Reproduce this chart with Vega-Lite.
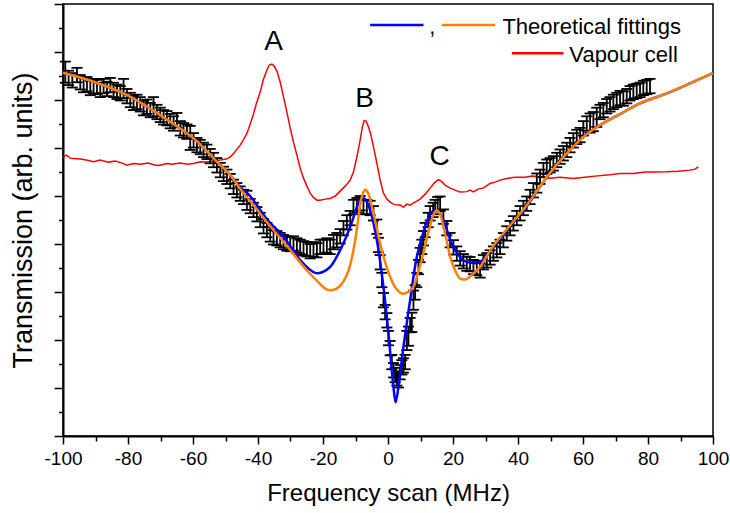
{
  "$schema": "https://vega.github.io/schema/vega-lite/v6.json",
  "width": 650,
  "height": 432,
  "autosize": {"type": "none"},
  "padding": {"left": 63, "top": 4, "right": 17, "bottom": 77},
  "background": "white",
  "config": {
    "view": {"stroke": "black", "strokeWidth": 1.5},
    "font": "Liberation Sans",
    "axis": {"domainColor": "black", "domainWidth": 2, "tickColor": "black", "tickWidth": 1.5, "labelColor": "black", "titleColor": "black", "grid": false, "labelFont": "Liberation Sans", "titleFont": "Liberation Sans", "titleFontWeight": "normal"}
  },
  "datasets": {
    "points": [
      {"f": -99.29, "v": 7.58, "e": 0.22}, {"f": -98.28, "v": 7.46, "e": 0.15}, {"f": -97.14, "v": 7.41, "e": 0.15}, {"f": -95.69, "v": 7.52, "e": 0.15},
      {"f": -94.68, "v": 7.37, "e": 0.15}, {"f": -93.66, "v": 7.31, "e": 0.15}, {"f": -92.62, "v": 7.33, "e": 0.15}, {"f": -91.6, "v": 7.25, "e": 0.15},
      {"f": -90.59, "v": 7.29, "e": 0.15}, {"f": -89.54, "v": 7.27, "e": 0.15}, {"f": -88.53, "v": 7.21, "e": 0.15}, {"f": -87.51, "v": 7.29, "e": 0.15},
      {"f": -86.47, "v": 7.23, "e": 0.15}, {"f": -85.45, "v": 7.31, "e": 0.15}, {"f": -84.44, "v": 7.21, "e": 0.15}, {"f": -83.39, "v": 7.17, "e": 0.15},
      {"f": -82.38, "v": 7.14, "e": 0.15}, {"f": -81.36, "v": 7.24, "e": 0.2}, {"f": -80.32, "v": 7.08, "e": 0.15}, {"f": -79.3, "v": 7.0, "e": 0.15},
      {"f": -78.29, "v": 6.94, "e": 0.15}, {"f": -77.24, "v": 6.96, "e": 0.15}, {"f": -76.23, "v": 6.91, "e": 0.15}, {"f": -75.21, "v": 6.83, "e": 0.15},
      {"f": -74.17, "v": 6.86, "e": 0.15}, {"f": -73.15, "v": 6.79, "e": 0.15}, {"f": -72.14, "v": 6.86, "e": 0.2}, {"f": -71.09, "v": 6.75, "e": 0.15},
      {"f": -70.08, "v": 6.69, "e": 0.15}, {"f": -69.06, "v": 6.64, "e": 0.15}, {"f": -68.01, "v": 6.62, "e": 0.15}, {"f": -67.0, "v": 6.56, "e": 0.15},
      {"f": -65.98, "v": 6.51, "e": 0.15}, {"f": -64.94, "v": 6.58, "e": 0.15}, {"f": -63.92, "v": 6.41, "e": 0.15}, {"f": -62.91, "v": 6.37, "e": 0.15},
      {"f": -61.86, "v": 6.34, "e": 0.15}, {"f": -60.85, "v": 6.21, "e": 0.25}, {"f": -59.83, "v": 6.16, "e": 0.15}, {"f": -58.79, "v": 6.06, "e": 0.15},
      {"f": -57.77, "v": 6.02, "e": 0.15}, {"f": -56.76, "v": 5.96, "e": 0.15}, {"f": -55.71, "v": 5.92, "e": 0.15}, {"f": -54.7, "v": 5.83, "e": 0.15},
      {"f": -53.68, "v": 5.75, "e": 0.15}, {"f": -52.64, "v": 5.64, "e": 0.15}, {"f": -51.62, "v": 5.54, "e": 0.15}, {"f": -50.61, "v": 5.46, "e": 0.15},
      {"f": -49.56, "v": 5.4, "e": 0.15}, {"f": -48.55, "v": 5.31, "e": 0.15}, {"f": -47.53, "v": 5.19, "e": 0.15}, {"f": -46.49, "v": 5.12, "e": 0.15},
      {"f": -45.47, "v": 5.05, "e": 0.15}, {"f": -44.46, "v": 4.98, "e": 0.15}, {"f": -43.41, "v": 4.91, "e": 0.2}, {"f": -42.4, "v": 4.79, "e": 0.15},
      {"f": -41.38, "v": 4.71, "e": 0.15}, {"f": -40.33, "v": 4.62, "e": 0.15}, {"f": -39.32, "v": 4.5, "e": 0.15}, {"f": -38.31, "v": 4.37, "e": 0.15},
      {"f": -37.26, "v": 4.29, "e": 0.15}, {"f": -36.24, "v": 4.2, "e": 0.15}, {"f": -35.23, "v": 4.14, "e": 0.15}, {"f": -34.18, "v": 4.12, "e": 0.15},
      {"f": -33.17, "v": 4.08, "e": 0.15}, {"f": -32.15, "v": 4.04, "e": 0.15}, {"f": -31.11, "v": 4.01, "e": 0.15}, {"f": -30.09, "v": 4.0, "e": 0.15},
      {"f": -29.08, "v": 4.01, "e": 0.15}, {"f": -28.03, "v": 3.97, "e": 0.15}, {"f": -27.02, "v": 3.94, "e": 0.15}, {"f": -26.0, "v": 3.91, "e": 0.15},
      {"f": -24.96, "v": 3.89, "e": 0.15}, {"f": -23.94, "v": 3.85, "e": 0.15}, {"f": -22.93, "v": 3.89, "e": 0.15}, {"f": -21.88, "v": 3.87, "e": 0.15},
      {"f": -20.87, "v": 3.94, "e": 0.15}, {"f": -19.85, "v": 3.94, "e": 0.15}, {"f": -18.81, "v": 3.97, "e": 0.15}, {"f": -17.79, "v": 3.94, "e": 0.15},
      {"f": -16.77, "v": 4.04, "e": 0.15}, {"f": -15.73, "v": 4.08, "e": 0.15}, {"f": -14.72, "v": 4.16, "e": 0.15}, {"f": -13.7, "v": 4.33, "e": 0.15},
      {"f": -12.66, "v": 4.45, "e": 0.15}, {"f": -11.64, "v": 4.54, "e": 0.15}, {"f": -10.63, "v": 4.77, "e": 0.15}, {"f": -9.58, "v": 4.81, "e": 0.15},
      {"f": -8.57, "v": 4.85, "e": 0.15}, {"f": -7.55, "v": 4.77, "e": 0.15}, {"f": -6.51, "v": 4.77, "e": 0.15}, {"f": -5.49, "v": 4.75, "e": 0.15},
      {"f": -4.48, "v": 4.64, "e": 0.15}, {"f": -3.43, "v": 4.36, "e": 0.15}, {"f": -2.94, "v": 3.98, "e": 0.15}, {"f": -2.41, "v": 3.62, "e": 0.15},
      {"f": -1.89, "v": 3.25, "e": 0.15}, {"f": -1.4, "v": 2.83, "e": 0.15}, {"f": -0.88, "v": 2.58, "e": 0.15}, {"f": -0.35, "v": 2.41, "e": 0.15},
      {"f": 0.14, "v": 2.04, "e": 0.15}, {"f": 0.66, "v": 1.83, "e": 0.15}, {"f": 1.18, "v": 1.54, "e": 0.15}, {"f": 1.68, "v": 1.37, "e": 0.15},
      {"f": 2.2, "v": 1.27, "e": 0.15}, {"f": 2.72, "v": 1.2, "e": 0.15}, {"f": 3.21, "v": 1.16, "e": 0.15}, {"f": 3.74, "v": 1.33, "e": 0.15},
      {"f": 4.26, "v": 1.43, "e": 0.15}, {"f": 4.75, "v": 1.47, "e": 0.15}, {"f": 5.28, "v": 1.54, "e": 0.15}, {"f": 5.8, "v": 1.99, "e": 0.2},
      {"f": 6.29, "v": 2.08, "e": 0.2}, {"f": 6.81, "v": 2.31, "e": 0.15}, {"f": 7.34, "v": 2.37, "e": 0.2}, {"f": 7.83, "v": 2.83, "e": 0.2},
      {"f": 8.35, "v": 2.99, "e": 0.15}, {"f": 8.87, "v": 3.25, "e": 0.15}, {"f": 9.37, "v": 3.52, "e": 0.15}, {"f": 9.89, "v": 3.77, "e": 0.15},
      {"f": 10.41, "v": 3.94, "e": 0.15}, {"f": 10.91, "v": 4.12, "e": 0.15}, {"f": 11.43, "v": 4.29, "e": 0.15}, {"f": 12.35, "v": 4.5, "e": 0.15},
      {"f": 12.96, "v": 4.64, "e": 0.15}, {"f": 13.89, "v": 4.71, "e": 0.15}, {"f": 14.5, "v": 4.77, "e": 0.15}, {"f": 15.27, "v": 4.83, "e": 0.15},
      {"f": 16.04, "v": 4.84, "e": 0.15}, {"f": 17.05, "v": 4.57, "e": 0.15}, {"f": 18.1, "v": 4.33, "e": 0.15}, {"f": 19.11, "v": 4.08, "e": 0.15},
      {"f": 20.13, "v": 3.93, "e": 0.15}, {"f": 21.17, "v": 3.8, "e": 0.15}, {"f": 22.19, "v": 3.7, "e": 0.15}, {"f": 23.2, "v": 3.64, "e": 0.15},
      {"f": 24.25, "v": 3.59, "e": 0.15}, {"f": 25.26, "v": 3.58, "e": 0.15}, {"f": 26.28, "v": 3.52, "e": 0.15}, {"f": 27.32, "v": 3.5, "e": 0.15},
      {"f": 28.34, "v": 3.45, "e": 0.15}, {"f": 29.35, "v": 3.62, "e": 0.15}, {"f": 30.4, "v": 3.66, "e": 0.15}, {"f": 31.42, "v": 3.72, "e": 0.15},
      {"f": 32.43, "v": 3.8, "e": 0.15}, {"f": 33.47, "v": 3.87, "e": 0.15}, {"f": 34.49, "v": 3.94, "e": 0.15}, {"f": 35.51, "v": 4.08, "e": 0.15},
      {"f": 36.55, "v": 4.22, "e": 0.15}, {"f": 37.57, "v": 4.33, "e": 0.15}, {"f": 38.58, "v": 4.43, "e": 0.15}, {"f": 39.63, "v": 4.54, "e": 0.15},
      {"f": 40.64, "v": 4.64, "e": 0.15}, {"f": 41.66, "v": 4.75, "e": 0.15}, {"f": 42.7, "v": 4.84, "e": 0.15}, {"f": 43.72, "v": 4.98, "e": 0.15},
      {"f": 44.73, "v": 5.12, "e": 0.15}, {"f": 45.78, "v": 5.27, "e": 0.2}, {"f": 46.79, "v": 5.4, "e": 0.15}, {"f": 47.81, "v": 5.54, "e": 0.15},
      {"f": 48.85, "v": 5.61, "e": 0.15}, {"f": 49.87, "v": 5.64, "e": 0.15}, {"f": 50.88, "v": 5.68, "e": 0.15}, {"f": 51.93, "v": 5.75, "e": 0.15},
      {"f": 52.94, "v": 5.82, "e": 0.15}, {"f": 53.96, "v": 5.89, "e": 0.15}, {"f": 55.01, "v": 5.96, "e": 0.15}, {"f": 56.02, "v": 6.06, "e": 0.15},
      {"f": 57.04, "v": 6.16, "e": 0.15}, {"f": 58.08, "v": 6.23, "e": 0.15}, {"f": 59.1, "v": 6.27, "e": 0.15}, {"f": 60.11, "v": 6.41, "e": 0.15},
      {"f": 61.16, "v": 6.51, "e": 0.15}, {"f": 62.17, "v": 6.52, "e": 0.2}, {"f": 63.19, "v": 6.55, "e": 0.2}, {"f": 64.23, "v": 6.64, "e": 0.2},
      {"f": 65.25, "v": 6.75, "e": 0.15}, {"f": 66.26, "v": 6.79, "e": 0.15}, {"f": 67.31, "v": 6.87, "e": 0.15}, {"f": 68.32, "v": 6.91, "e": 0.15},
      {"f": 69.34, "v": 6.96, "e": 0.15}, {"f": 70.38, "v": 7.0, "e": 0.15}, {"f": 71.4, "v": 7.04, "e": 0.15}, {"f": 72.41, "v": 7.03, "e": 0.15},
      {"f": 73.46, "v": 7.08, "e": 0.15}, {"f": 74.47, "v": 7.14, "e": 0.15}, {"f": 75.49, "v": 7.17, "e": 0.15}, {"f": 76.53, "v": 7.19, "e": 0.15},
      {"f": 77.55, "v": 7.21, "e": 0.15}, {"f": 78.56, "v": 7.25, "e": 0.15}, {"f": 79.61, "v": 7.27, "e": 0.15}, {"f": 80.62, "v": 7.29, "e": 0.15}
    ],
    "fit1": [
      {"f": -100, "v": 7.567}, {"f": -90.6, "v": 7.38}, {"f": -80.3, "v": 7.102}, {"f": -70.1, "v": 6.685}, {"f": -59.8, "v": 6.2},
      {"f": -52.6, "v": 5.712}, {"f": -48.55, "v": 5.435}, {"f": -45.47, "v": 5.184}, {"f": -42.4, "v": 4.997}, {"f": -37.26, "v": 4.517},
      {"f": -32.15, "v": 4.148}, {"f": -27.02, "v": 3.663}, {"f": -24.56, "v": 3.496}, {"f": -22.4, "v": 3.398}, {"f": -20.25, "v": 3.412},
      {"f": -17.79, "v": 3.523}, {"f": -14.72, "v": 3.871}, {"f": -11.64, "v": 4.357}, {"f": -10.1, "v": 4.663}, {"f": -9.09, "v": 4.851},
      {"f": -8.04, "v": 4.949}, {"f": -7.03, "v": 4.934}, {"f": -5.49, "v": 4.705}, {"f": -3.43, "v": 4.08}, {"f": -1.4, "v": 3.106},
      {"f": 0.14, "v": 2.135}, {"f": 1.68, "v": 1.021}, {"f": 2.35, "v": 0.703}, {"f": 3.21, "v": 1.021}, {"f": 4.75, "v": 1.855},
      {"f": 6.81, "v": 2.829}, {"f": 8.87, "v": 3.731}, {"f": 11.42, "v": 4.357}, {"f": 12.96, "v": 4.622}, {"f": 14.5, "v": 4.705},
      {"f": 15.73, "v": 4.663}, {"f": 17.05, "v": 4.496}, {"f": 20.13, "v": 3.94}, {"f": 23.2, "v": 3.663}, {"f": 26.28, "v": 3.606},
      {"f": 28.34, "v": 3.621}, {"f": 32.43, "v": 3.94}, {"f": 38.58, "v": 4.455}, {"f": 42.7, "v": 4.788}, {"f": 48.85, "v": 5.393},
      {"f": 55.01, "v": 5.887}, {"f": 61.16, "v": 6.289}, {"f": 65.25, "v": 6.477}, {"f": 71.4, "v": 6.706}, {"f": 77.55, "v": 6.929},
      {"f": 85.76, "v": 7.138}, {"f": 92.93, "v": 7.346}, {"f": 100, "v": 7.561}
    ],
    "fit2": [
      {"f": -100, "v": 7.567}, {"f": -90.6, "v": 7.38}, {"f": -80.3, "v": 7.102}, {"f": -70.1, "v": 6.685}, {"f": -59.8, "v": 6.2},
      {"f": -52.6, "v": 5.712}, {"f": -48.5, "v": 5.435}, {"f": -45.5, "v": 5.15}, {"f": -41.5, "v": 4.82}, {"f": -37.3, "v": 4.46},
      {"f": -31.1, "v": 3.96}, {"f": -25.0, "v": 3.454}, {"f": -20.9, "v": 3.17}, {"f": -19.3, "v": 3.07}, {"f": -17.8, "v": 3.037}, {"f": -15.8, "v": 3.07},
      {"f": -13.9, "v": 3.2}, {"f": -12.3, "v": 3.42}, {"f": -11.0, "v": 3.75}, {"f": -10.1, "v": 4.08}, {"f": -9.09, "v": 4.55}, {"f": -8.26, "v": 4.93},
      {"f": -7.03, "v": 5.132}, {"f": -6.11, "v": 5.059}, {"f": -4.97, "v": 4.774}, {"f": -3.64, "v": 4.392}, {"f": -2.41, "v": 4.011},
      {"f": -0.88, "v": 3.621}, {"f": 0.66, "v": 3.315}, {"f": 2.2, "v": 3.1}, {"f": 4.26, "v": 2.968}, {"f": 6.2, "v": 2.996},
      {"f": 7.83, "v": 3.106}, {"f": 9.27, "v": 3.412}, {"f": 10.9, "v": 3.802}, {"f": 12.04, "v": 4.163}, {"f": 12.96, "v": 4.38},
      {"f": 13.89, "v": 4.601}, {"f": 15.02, "v": 4.705}, {"f": 16.04, "v": 4.622}, {"f": 17.05, "v": 4.357}, {"f": 18.19, "v": 4.038},
      {"f": 19.12, "v": 3.731}, {"f": 20.65, "v": 3.454}, {"f": 22.19, "v": 3.281}, {"f": 24.04, "v": 3.267}, {"f": 26.28, "v": 3.385},
      {"f": 28.34, "v": 3.523}, {"f": 30.4, "v": 3.746}, {"f": 32.34, "v": 3.955}, {"f": 36.55, "v": 4.309}, {"f": 42.7, "v": 4.809},
      {"f": 48.85, "v": 5.393}, {"f": 55.01, "v": 5.887}, {"f": 61.16, "v": 6.289}, {"f": 65.25, "v": 6.477}, {"f": 71.4, "v": 6.706},
      {"f": 77.55, "v": 6.929}, {"f": 85.76, "v": 7.138}, {"f": 92.93, "v": 7.346}, {"f": 100, "v": 7.561}
    ],
    "vapour": [
      {"f": -100.0, "v": 5.816}, {"f": -98.99, "v": 5.852}, {"f": -97.75, "v": 5.789}, {"f": -96.74, "v": 5.783}, {"f": -94.68, "v": 5.769},
      {"f": -92.83, "v": 5.748}, {"f": -90.59, "v": 5.712}, {"f": -88.53, "v": 5.748}, {"f": -86.07, "v": 5.706}, {"f": -83.92, "v": 5.727},
      {"f": -81.76, "v": 5.685}, {"f": -80.32, "v": 5.643}, {"f": -78.29, "v": 5.679}, {"f": -76.23, "v": 5.664}, {"f": -73.77, "v": 5.685},
      {"f": -71.61, "v": 5.643}, {"f": -70.08, "v": 5.643}, {"f": -68.01, "v": 5.679}, {"f": -66.38, "v": 5.664}, {"f": -63.92, "v": 5.685},
      {"f": -61.77, "v": 5.664}, {"f": -59.83, "v": 5.679}, {"f": -57.77, "v": 5.712}, {"f": -55.62, "v": 5.706}, {"f": -53.78, "v": 5.727},
      {"f": -51.62, "v": 5.748}, {"f": -49.78, "v": 5.769}, {"f": -48.55, "v": 5.81}, {"f": -47.53, "v": 5.887}, {"f": -46.7, "v": 5.956},
      {"f": -45.47, "v": 6.06}, {"f": -44.55, "v": 6.165}, {"f": -43.41, "v": 6.304}, {"f": -42.4, "v": 6.498}, {"f": -41.38, "v": 6.707},
      {"f": -40.55, "v": 6.915}, {"f": -39.32, "v": 7.165}, {"f": -38.4, "v": 7.415}, {"f": -37.26, "v": 7.624}, {"f": -36.55, "v": 7.728},
      {"f": -35.72, "v": 7.749}, {"f": -35.01, "v": 7.707}, {"f": -34.18, "v": 7.603}, {"f": -33.17, "v": 7.374}, {"f": -32.15, "v": 7.061},
      {"f": -31.11, "v": 6.748}, {"f": -30.09, "v": 6.415}, {"f": -29.08, "v": 6.123}, {"f": -28.03, "v": 5.852}, {"f": -27.02, "v": 5.581},
      {"f": -26.0, "v": 5.372}, {"f": -24.96, "v": 5.206}, {"f": -23.94, "v": 5.06}, {"f": -23.02, "v": 4.976}, {"f": -21.88, "v": 4.914},
      {"f": -20.87, "v": 4.914}, {"f": -19.33, "v": 4.935}, {"f": -17.79, "v": 4.949}, {"f": -16.25, "v": 4.997}, {"f": -14.72, "v": 5.101},
      {"f": -13.49, "v": 5.185}, {"f": -12.66, "v": 5.247}, {"f": -11.64, "v": 5.331}, {"f": -10.63, "v": 5.498}, {"f": -9.58, "v": 5.81},
      {"f": -8.57, "v": 6.165}, {"f": -7.95, "v": 6.415}, {"f": -7.34, "v": 6.571}, {"f": -6.72, "v": 6.561}, {"f": -6.11, "v": 6.456},
      {"f": -5.49, "v": 6.331}, {"f": -4.57, "v": 6.06}, {"f": -3.43, "v": 5.685}, {"f": -2.41, "v": 5.331}, {"f": -1.4, "v": 5.06},
      {"f": -0.35, "v": 4.935}, {"f": 0.66, "v": 4.872}, {"f": 1.68, "v": 4.831}, {"f": 2.82, "v": 4.81}, {"f": 3.74, "v": 4.81},
      {"f": 4.75, "v": 4.768}, {"f": 5.8, "v": 4.831}, {"f": 6.81, "v": 4.81}, {"f": 7.74, "v": 4.852}, {"f": 8.87, "v": 4.893},
      {"f": 9.89, "v": 4.935}, {"f": 11.43, "v": 5.039}, {"f": 12.96, "v": 5.164}, {"f": 14.19, "v": 5.268}, {"f": 15.52, "v": 5.341},
      {"f": 16.35, "v": 5.31}, {"f": 17.58, "v": 5.227}, {"f": 19.11, "v": 5.164}, {"f": 20.65, "v": 5.122}, {"f": 22.19, "v": 5.081},
      {"f": 24.25, "v": 5.091}, {"f": 25.26, "v": 5.122}, {"f": 26.28, "v": 5.087}, {"f": 27.72, "v": 5.143}, {"f": 29.26, "v": 5.164},
      {"f": 31.42, "v": 5.262}, {"f": 32.95, "v": 5.289}, {"f": 34.49, "v": 5.331}, {"f": 36.55, "v": 5.366}, {"f": 39.1, "v": 5.393},
      {"f": 42.18, "v": 5.393}, {"f": 44.33, "v": 5.414}, {"f": 46.79, "v": 5.4}, {"f": 49.87, "v": 5.372}, {"f": 52.94, "v": 5.393},
      {"f": 57.04, "v": 5.366}, {"f": 60.63, "v": 5.393}, {"f": 63.71, "v": 5.414}, {"f": 67.31, "v": 5.435}, {"f": 71.4, "v": 5.47},
      {"f": 75.49, "v": 5.47}, {"f": 79.09, "v": 5.498}, {"f": 82.17, "v": 5.498}, {"f": 85.76, "v": 5.504}, {"f": 89.24, "v": 5.518},
      {"f": 92.93, "v": 5.539}, {"f": 94.47, "v": 5.56}, {"f": 95.48, "v": 5.608}
    ],
    "peaks": [
      {"label": "A", "f": -35.23, "v": 8.04},
      {"label": "B", "f": -7.2, "v": 6.86},
      {"label": "C", "f": 15.9, "v": 5.64}
    ],
    "legendLines": [
      {"series": "fit1", "f": -5.49, "f2": 10.9, "v": 8.562},
      {"series": "fit2", "f": 16.56, "f2": 32.95, "v": 8.562},
      {"series": "vapour", "f": 38.09, "f2": 54.0, "v": 7.972}
    ],
    "legendText": [
      {"label": ",", "f": 12.7, "v": 8.385},
      {"label": "Theoretical fittings", "f": 35.2, "v": 8.385},
      {"label": "Vapour cell", "f": 55.8, "v": 7.797}
    ]
  },
  "encoding": {
    "x": {
      "field": "f", "type": "quantitative",
      "scale": {"domain": [-100, 100], "nice": false, "zero": false},
      "axis": {
        "title": "Frequency scan (MHz)", "titleFontSize": 24, "titlePadding": 13,
        "values": [-100, -90, -80, -70, -60, -50, -40, -30, -20, -10, 0, 10, 20, 30, 40, 50, 60, 70, 80, 90, 100],
        "labelExpr": "datum.value % 20 === 0 ? '' + datum.value : ''",
        "labelFontSize": 19, "labelPadding": 5, "labelFlush": false, "labelOverlap": false,
        "tickSize": {"condition": {"test": "datum.value % 20 === 0", "value": 8}, "value": 5}
      }
    },
    "y": {
      "field": "v", "type": "quantitative",
      "scale": {"domain": [0, 9], "nice": false, "zero": false},
      "axis": {
        "title": "Transmission (arb. units)", "titleFontSize": 27, "titlePadding": 16,
        "values": [0, 0.5, 1, 1.5, 2, 2.5, 3, 3.5, 4, 4.5, 5, 5.5, 6, 6.5, 7, 7.5, 8, 8.5, 9],
        "labels": false,
        "tickSize": {"condition": {"test": "datum.value % 1 === 0", "value": 9}, "value": 4.5}
      }
    }
  },
  "layer": [
    {"data": {"name": "vapour"}, "mark": {"type": "line", "color": "#ff0000", "strokeWidth": 1.5}, "encoding": {}},
    {"data": {"name": "points"}, "mark": {"type": "errorbar", "color": "black", "opacity": 1, "ticks": {"size": 11, "thickness": 1.8, "color": "black", "opacity": 1}, "rule": {"strokeWidth": 1.8, "color": "black", "opacity": 1}}, "encoding": {"yError": {"field": "e"}}},
    {"data": {"name": "fit1"}, "mark": {"type": "line", "color": "#0000ff", "strokeWidth": 2.5, "interpolate": "catmull-rom"}, "encoding": {}},
    {"data": {"name": "fit2"}, "mark": {"type": "line", "color": "#ff8000", "strokeWidth": 2.5, "interpolate": "catmull-rom"}, "encoding": {}},
    {"data": {"name": "peaks"}, "mark": {"type": "text", "fontSize": 28, "align": "center", "baseline": "alphabetic", "color": "black"}, "encoding": {"text": {"field": "label"}}},
    {"data": {"name": "legendLines"}, "mark": {"type": "rule"}, "encoding": {
      "x2": {"field": "f2"},
      "color": {"field": "series", "type": "nominal", "scale": {"domain": ["fit1", "fit2", "vapour"], "range": ["#0000ff", "#ff8000", "#ff0000"]}, "legend": null},
      "strokeWidth": {"field": "series", "type": "nominal", "scale": {"domain": ["fit1", "fit2", "vapour"], "range": [2.5, 2.5, 1.5]}, "legend": null}
    }},
    {"data": {"name": "legendText"}, "mark": {"type": "text", "fontSize": 22, "align": "left", "baseline": "alphabetic", "color": "black"}, "encoding": {"text": {"field": "label"}}}
  ]
}
